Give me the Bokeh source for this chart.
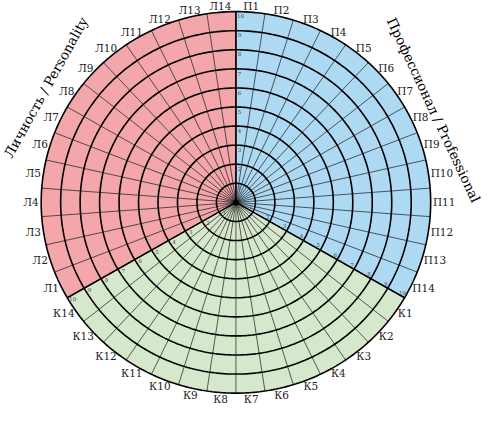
import numpy as np
from bokeh.plotting import figure
from bokeh.models import ColumnDataSource, Range1d
from bokeh.embed import file_html
from bokeh.resources import INLINE
from bokeh.core.properties import value

# ---- data ----
prof_labels = ["П1", "П2", "П3", "П4", "П5", "П6", "П7", "П8", "П9", "П10", "П11", "П12", "П13", "П14"]
career_labels = ["К1", "К2", "К3", "К4", "К5", "К6", "К7", "К8", "К9", "К10", "К11", "К12", "К13", "К14"]
pers_labels = ["Л1", "Л2", "Л3", "Л4", "Л5", "Л6", "Л7", "Л8", "Л9", "Л10", "Л11", "Л12", "Л13", "Л14"]
ring_levels = [1, 2, 3, 4, 5, 6, 7, 8, 9, 10]
group_titles = ["Профессионал / Professional", "Личность / Personality"]
group_colors = ["#aed9f3", "#d6e8cc", "#f3a7ab"]

FONT = "DejaVu Serif"

groups = [prof_labels, career_labels, pers_labels]
labels = prof_labels + career_labels + pers_labels
n = len(labels)
R = max(ring_levels)
step = 2 * np.pi / n
start = np.pi / 2

# reference-frame mapping (pixels per unit, centre location)
PPU = 20.2
CX, CY = 243.2, 211.8
X0, X1 = -1.0, 500.0
Y0, Y1 = -2.0, 429.0

p = figure(width=483, height=407, output_backend="svg", toolbar_location=None,
           x_range=Range1d((X0 - CX) / PPU, (X1 - CX) / PPU),
           y_range=Range1d((CY - Y1) / PPU, (CY - Y0) / PPU),
           min_border=0)
p.axis.visible = False
p.grid.visible = False
p.outline_line_color = None
p.background_fill_color = "white"

# ---- sector fills ----
xs, ys = [], []
g0 = 0
for g, grp in enumerate(groups):
    a0 = start - g0 * step
    a1 = start - (g0 + len(grp)) * step
    t = np.linspace(a0, a1, 120)
    xs.append(list(np.r_[0, R * np.cos(t)]))
    ys.append(list(np.r_[0, R * np.sin(t)]))
    g0 += len(grp)
p.patches(xs, ys, fill_color=group_colors, line_color=None)

# ---- spokes ----
sp_a = start - np.arange(n) * step
p.segment(x0=0, y0=0, x1=R * np.cos(sp_a), y1=R * np.sin(sp_a), line_color="#1a1a1a", line_width=0.7)
bnd = [0, len(prof_labels), len(prof_labels) + len(career_labels)]
ba = start - np.array(bnd) * step
p.segment(x0=0, y0=0, x1=R * np.cos(ba), y1=R * np.sin(ba), line_color="black", line_width=1.6)

# ---- rings ----
tt = np.linspace(0, 2 * np.pi, 361)
p.multi_line([list(r * np.cos(tt)) for r in ring_levels], [list(r * np.sin(tt)) for r in ring_levels],
             line_color="black", line_width=1.6)
p.scatter([0], [0], size=5, color="black")

# ---- category labels ----
la = start - (np.arange(n) + 0.5) * step
fs = 10.5
wid = np.array([0.74 * fs + 0.64 * fs * (len(s) - 1) for s in labels])
hgt = 0.75 * fs
rl = R + 0.1
src = ColumnDataSource(dict(x=rl * np.cos(la), y=rl * np.sin(la), t=labels,
                            xo=(wid / 2 + 1) * np.cos(la), yo=-(hgt / 2 + 0.5) * np.sin(la)))
p.text(x="x", y="y", text="t", x_offset="xo", y_offset="yo", source=src,
       text_font=value(FONT), text_font_size=f"{fs}px", text_color="#222222",
       text_align="center", text_baseline="middle")

# ---- small ring numbers along the three boundaries ----
rv = np.array(ring_levels, dtype=float) - 0.22
nx, ny, nt, nxo, nyo = [], [], [], [], []
for k, a in enumerate(ba):
    for r, lv in zip(rv, ring_levels):
        nx.append(r * np.cos(a)); ny.append(r * np.sin(a)); nt.append(str(lv))
        if k == 0:
            nxo.append(2.5 + (2 if lv == 10 else 1)); nyo.append(0)
        else:
            px, py = -np.sin(a), np.cos(a)
            nxo.append(3.5 * px); nyo.append(-3.5 * py)
p.text(x=nx, y=ny, text=nt, x_offset=nxo, y_offset=nyo, text_font=value(FONT),
       text_font_size="5.5px", text_color="#444444", text_align="center", text_baseline="middle")

# ---- group titles ----
tx = [(448.5 - CX) / PPU, (46.0 - CX) / PPU]
ty = [(CY - 114) / PPU, (CY - 90) / PPU]
p.text(x=tx, y=ty, text=group_titles, angle=[np.deg2rad(-65), np.deg2rad(61)],
       text_font=value(FONT), text_font_size="13.5px", text_color="black",
       text_align="center", text_baseline="middle")

open("out.html", "w").write(file_html(p, INLINE))
